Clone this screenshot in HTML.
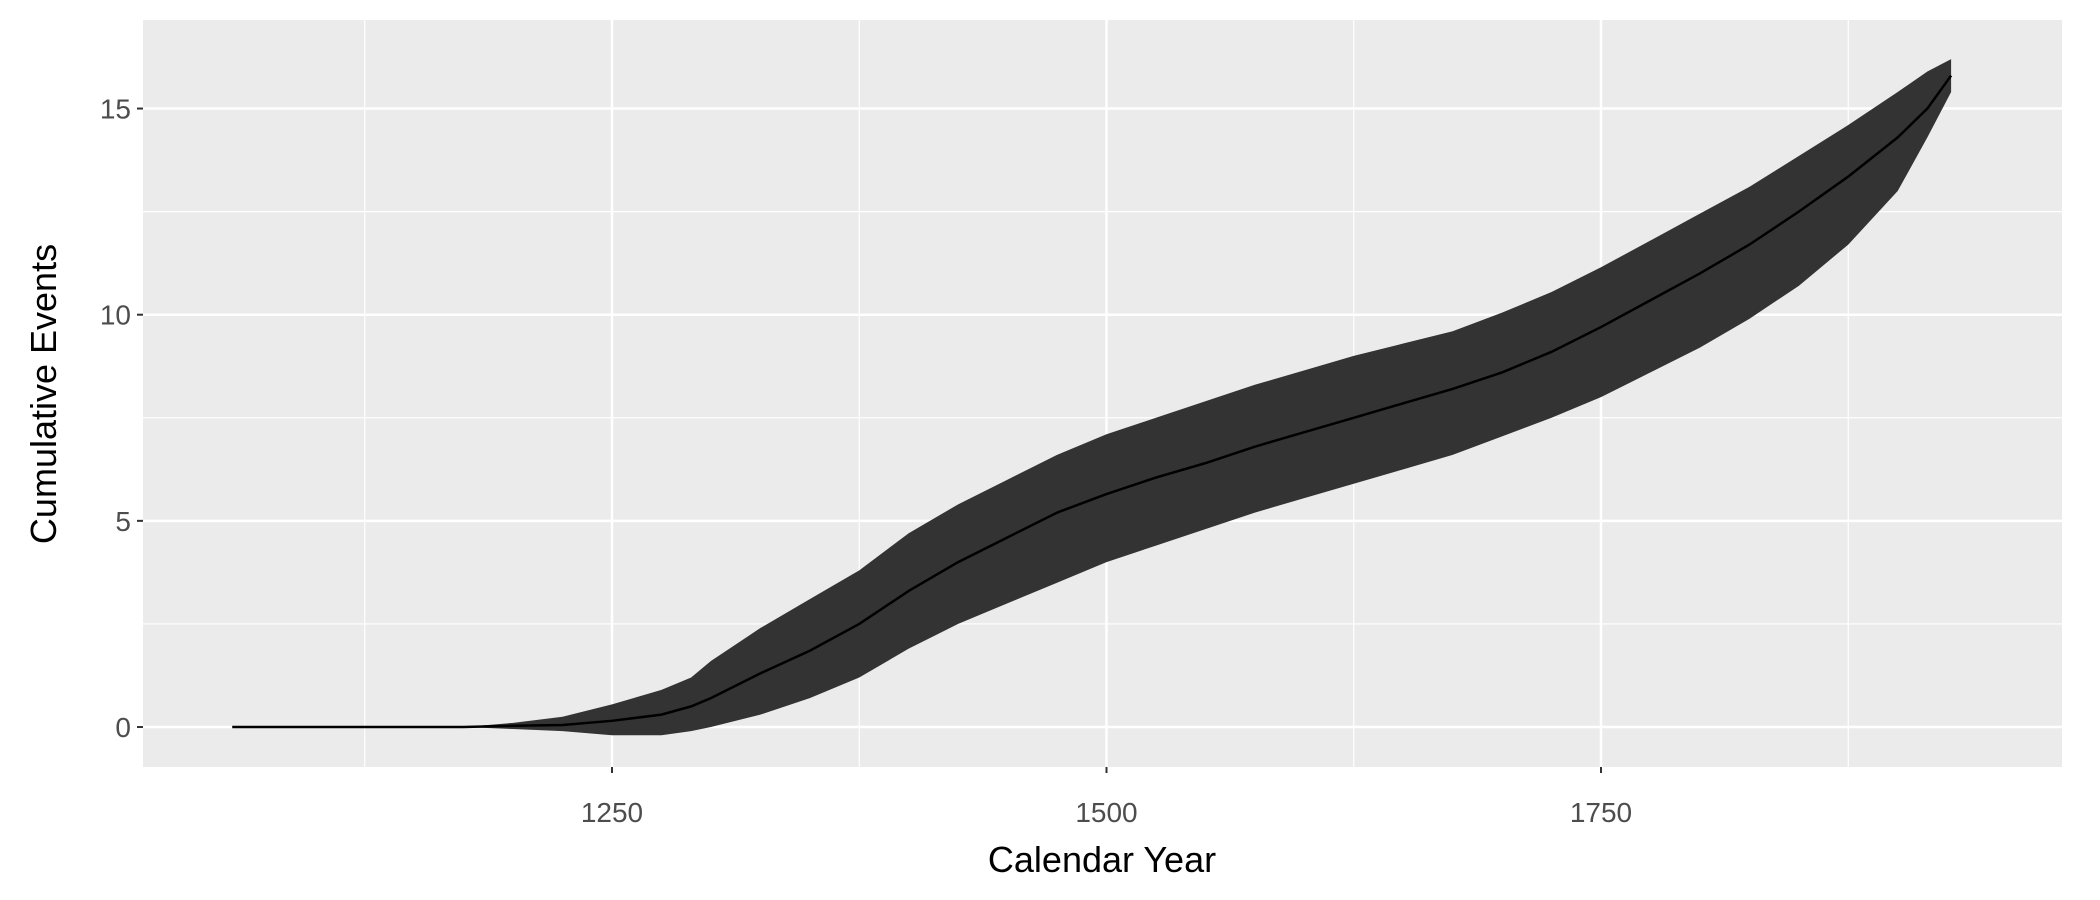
<!DOCTYPE html>
<html><head><meta charset="utf-8"><style>
html,body{margin:0;padding:0;background:#fff}
svg{display:block;font-family:"Liberation Sans",Arial,sans-serif}
</style></head><body>
<svg id="chart" width="2100" height="900" viewBox="0 0 2100 900" xmlns="http://www.w3.org/2000/svg">
<rect x="143" y="20" width="1919" height="747" fill="#EBEBEB"/>
<g id="grid"></g>
<g id="marks"></g>
<g id="axes"></g>
<text x="1102" y="872" font-size="36" text-anchor="middle" fill="#000">Calendar Year</text>
<text x="0" y="0" font-size="36" text-anchor="middle" fill="#000" transform="translate(56,394) rotate(-90)">Cumulative Events</text>
</svg>
<script>
const years = [1058,1175,1200,1225,1250,1275,1290,1300,1325,1350,1375,1400,1425,1450,1475,1500,1525,1550,1575,1600,1625,1650,1675,1700,1725,1750,1775,1800,1825,1850,1875,1900,1915,1927];
const meanVals = [0,0,0.03,0.05,0.15,0.3,0.5,0.7,1.3,1.85,2.5,3.3,4.0,4.6,5.2,5.65,6.05,6.4,6.8,7.15,7.5,7.85,8.2,8.6,9.1,9.7,10.35,11.0,11.7,12.5,13.35,14.3,15.0,15.8];
const upperVals = [0,0,0.1,0.25,0.55,0.9,1.2,1.6,2.4,3.1,3.8,4.7,5.4,6.0,6.6,7.1,7.5,7.9,8.3,8.65,9.0,9.3,9.6,10.05,10.55,11.15,11.8,12.45,13.1,13.85,14.6,15.4,15.9,16.2];
const lowerVals = [0,0,-0.05,-0.1,-0.2,-0.2,-0.1,0,0.3,0.7,1.2,1.9,2.5,3.0,3.5,4.0,4.4,4.8,5.2,5.55,5.9,6.25,6.6,7.05,7.5,8.0,8.6,9.2,9.9,10.7,11.7,13.0,14.3,15.4];
const xTicks = [1250,1500,1750];
const xMinor = [1125,1375,1625,1875];
const yTicks = [0,5,10,15];
const yMinor = [2.5,7.5,12.5];

const X = v => 612 + (v-1250)*(1601-612)/500;
const Y = v => 727 - v*41.23;
const NS = "http://www.w3.org/2000/svg";
function mk(tag, parent, attrs){const e=document.createElementNS(NS,tag);for(const k in attrs)e.setAttribute(k,attrs[k]);parent.appendChild(e);return e;}
const grid=document.getElementById('grid'), marks=document.getElementById('marks'), axes=document.getElementById('axes');
xMinor.forEach(v=>{const l=mk('line',grid,{x1:X(v),x2:X(v),y1:20,y2:767,stroke:'#fff','stroke-width':1.2});

});
yMinor.forEach(v=>{const l=mk('line',grid,{x1:143,x2:2062,y1:Y(v),y2:Y(v),stroke:'#fff','stroke-width':1.2});

});
xTicks.forEach(v=>{const l=mk('line',grid,{x1:X(v),x2:X(v),y1:20,y2:767,stroke:'#fff','stroke-width':2.5});


const t=mk('line',axes,{x1:X(v),x2:X(v),y1:767,y2:773,stroke:'#333','stroke-width':2});


const s=mk('text',axes,{x:X(v),y:822,'font-size':28,'text-anchor':'middle',fill:'#4D4D4D'});s.textContent=v;

});
yTicks.forEach(v=>{const l=mk('line',grid,{x1:143,x2:2062,y1:Y(v),y2:Y(v),stroke:'#fff','stroke-width':2.5});


const t=mk('line',axes,{x1:137,x2:143,y1:Y(v),y2:Y(v),stroke:'#333','stroke-width':2});


const s=mk('text',axes,{x:131,y:Y(v)+10,'font-size':28,'text-anchor':'end',fill:'#4D4D4D'});s.textContent=v;

});
let d='M'+years.map((y,i)=>X(y)+','+Y(upperVals[i])).join('L');
for(let i=years.length-1;i>=0;i--) d+='L'+X(years[i])+','+Y(lowerVals[i]);
const band=mk('path',marks,{d:d+'Z',fill:'#333333'});


const line=mk('path',marks,{d:'M'+years.map((y,i)=>X(y)+','+Y(meanVals[i])).join('L'),fill:'none',stroke:'#000','stroke-width':2.5});


</script>
</body></html>
